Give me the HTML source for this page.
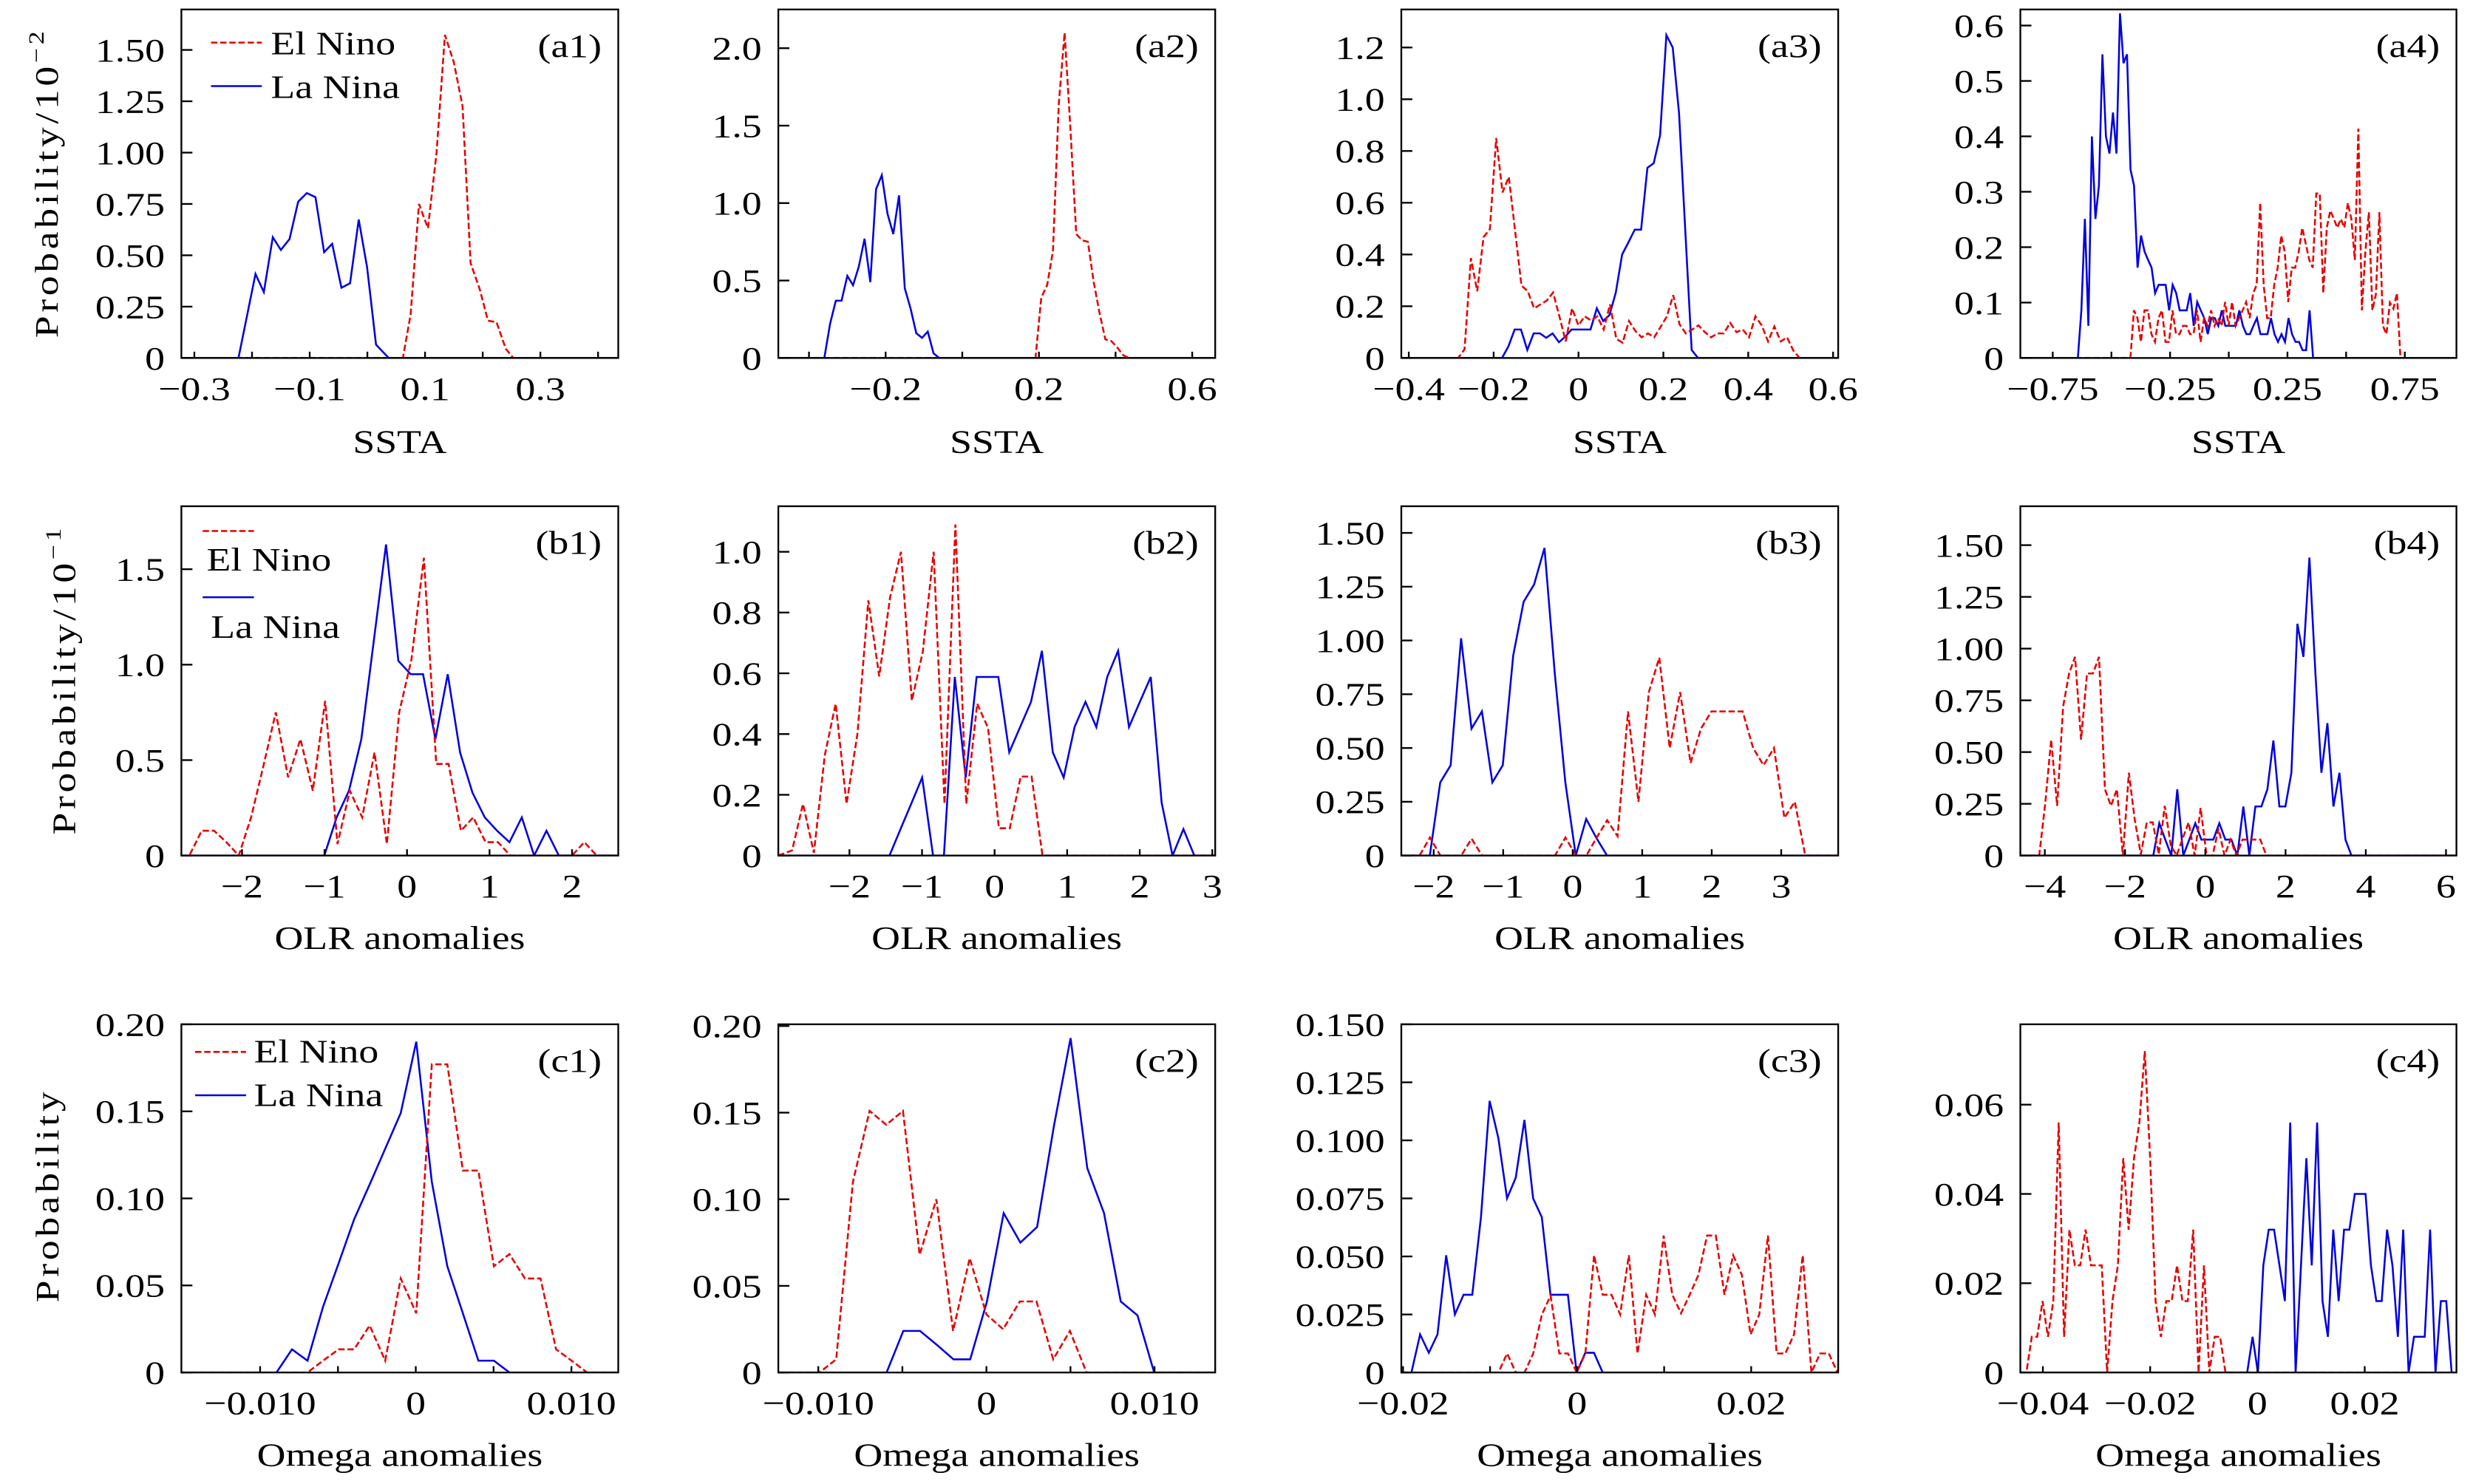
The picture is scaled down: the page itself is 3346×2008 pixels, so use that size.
<!DOCTYPE html>
<html><head><meta charset="utf-8"><title>ENSO probability distributions</title>
<style>
html,body{margin:0;padding:0;background:#fff;}
svg{display:block;}
text{font-family:"Liberation Serif",serif;fill:#000;}
</style></head>
<body>
<svg id="chart" xmlns="http://www.w3.org/2000/svg" width="3346" height="2008" viewBox="0 0 1568 941" preserveAspectRatio="none"></svg>
<script>
// ---------- data ----------
const a1NinaX=[-0.2235,-0.194,-0.1795,-0.164,-0.150,-0.135,-0.120,-0.105,-0.090,-0.075,-0.061,-0.045,-0.030,-0.015,-0.0005,0.015,0.037];
const a1NinaY=[0,.409,.321,.588,.526,.579,.761,.803,.783,.515,.556,.342,.364,.674,.442,.065,0];
const a1NinoX=[0.0616,0.075,0.0895,0.105,0.120,0.1345,0.150,0.165,0.179,0.195,0.209,0.224,0.240,0.253];
const a1NinoY=[0,.212,.750,.632,1.0,1.573,1.439,1.227,.462,.333,.182,.174,.045,0];

const a2NinaBins=[-0.36,0.015];
const a2NinaY=[0,.22,.37,.37,.53,.47,.59,.77,.49,1.09,1.18,.93,.8,1.05,.45,.32,.16,.13,.17,.03,0];
const a2NinoBins=[0.191,0.0152];
const a2NinoY=[0,.39,.47,.69,1.64,2.1,1.48,.8,.76,.75,.49,.29,.12,.11,.07,.02,0];

const a3NinoBins=[-0.2834,0.0149];
const a3NinoY=[0,.034,.386,.258,.467,.498,.85,.64,.70,.49,.28,.258,.192,.207,.222,.253,.161,.064,.192,.126,.161,.145,.161,.11,.207,.074,.059,.143,.105,.08,.095,.08,.12,.161,.243,.13,.095,.11,.126,.1,.08,.095,.095,.136,.1,.11,.08,.161,.126,.064,.122,.064,.08,.029,0];
const a3NinaBins=[-0.1803,0.0149];
const a3NinaY=[0,.044,.11,.11,.031,.095,.095,.078,.095,.061,.082,.11,.11,.11,.11,.192,.143,.166,.253,.40,.447,.496,.496,.735,.753,.86,1.248,1.2,.947,.488,.031,0];

const a4NinaBins=[-0.643,0.01496];
const a4NinaY=[0,.086,.251,.058,.40,.251,.311,.548,.40,.369,.443,.369,.622,.532,.548,.34,.311,.163,.221,.192,.177,.163,.117,.132,.132,.132,.086,.132,.117,.086,.086,.086,.117,.058,.101,.086,.072,.043,.072,.072,.058,.086,.058,.058,.058,.058,.086,.058,.043,.043,.058,.072,.043,.043,.043,.072,.043,.029,.043,.029,.072,.043,.029,.029,.014,.014,.086,0];
const a4NinoBins=[-0.419,0.01494];
const a4NinoY=[0,.086,.072,.029,.086,.086,.043,.029,.072,.086,.029,.029,.086,.043,.043,.058,.058,.043,.043,.086,.029,.072,.058,.086,.058,.072,.058,.101,.058,.101,.058,.072,.086,.101,.072,.117,.132,.28,.132,.072,.072,.132,.163,.221,.192,.101,.163,.163,.192,.235,.206,.177,.163,.297,.297,.117,.235,.266,.251,.235,.251,.235,.28,.251,.177,.414,.086,.192,.263,.086,.115,.263,.058,.043,.1,.089,.117,0];

const b1NinoBins=[-2.638,0.1496];
const b1NinoY=[0,.13,.13,.07,0,.2,.47,.75,.41,.61,.34,.81,.06,.34,.2,.54,.06,.75,1.03,1.56,.48,.48,.13,.2,.07,.07,0,0,0,0,0,0,.07,0];
const b1NinaBins=[-1.0026,0.1496];
const b1NinaY=[0,.2,.34,.61,1.12,1.63,1.02,.95,.95,.61,.95,.54,.33,.2,.13,.07,.2,0,.13,0];

const b2NinoBins=[-2.79,0.15];
const b2NinoY=[.017,.17,.009,.33,.5,.17,.4,.84,.59,.85,1.0,.51,.67,1.0,.17,1.09,.17,.5,.42,.09,.09,.26,.26,0];
const b2NinaBins=[-1.448,0.15];
const b2NinaY=[0,.086,.171,.257,0,0,.588,.257,.588,.588,.588,.34,.423,.506,.674,.34,.257,.423,.506,.423,.588,.674,.423,.506,.588,.174,0,.087,0];

const b3NinaBins=[-2.056,0.150];
const b3NinaY=[0,.34,.42,1.01,.59,.67,.34,.42,.93,1.18,1.26,1.43,.84,.34,0,.17,.08,0];
const b3NinoBins=[-2.204,0.150];
const b3NinoY=[0,.084,0,0,0,.078,0,0,0,0,0,0,0,0,.084,0,0,.084,.164,.09,.67,.25,.76,.92,.5,.76,.43,.59,.67,.67,.67,.67,.5,.42,.5,.175,.25,0];

const b4NinoBins=[-4.14,0.149];
const b4NinoY=[0,.25,.56,.24,.72,.88,.96,.56,.88,.88,.96,.32,.24,.32,0,.4,.17,.006,.16,.16,.006,.24,.05,0,.083,.16,0,.23,0,0,.13,0,.077,0,.077,.077,.077,.077,0];
const b4NinaBins=[-1.297,0.1497];
const b4NinaY=[0,.156,.077,0,.32,0,.077,.156,.077,.077,.077,.156,.077,.077,0,.237,0,.237,.237,.32,.556,.237,.237,.4,1.12,.96,1.44,.88,.4,.64,.237,.4,.077,0];

const c1NinaBins=[-0.00895,0.000998];
const c1NinaY=[0,.0133,.0068,.0378,.0627,.088,.108,.1285,.149,.19,.1096,.061,.034,.0068,.0068,0];
const c1NinoBins=[-0.00895,0.000998];
const c1NinoY=[0,0,0,.0068,.0133,.0133,.027,.0068,.054,.034,.177,.177,.116,.116,.061,.068,.054,.054,.0133,.0068,0];

const c2NinoBins=[-0.00993,0.000993];
const c2NinoY=[0,.0076,.11,.151,.143,.151,.068,.1,.024,.066,.0335,.025,.041,.041,.0076,.024,0];
const c2NinaBins=[-0.00594,0.000995];
const c2NinaY=[0,.024,.024,.016,.0076,.0076,.041,.092,.075,.084,.142,.193,.118,.092,.041,.033,0];

const c3NinaBins=[-0.01904,0.000999];
const c3NinaY=[0,.0164,.0085,.0164,.0505,.025,.0335,.0335,.0669,.117,.101,.075,.0839,.1088,.075,.0669,.0335,.0335,.0335,0,.0085,.0085,0];
const c3NinoBins=[-0.00904,0.000999];
const c3NinoY=[0,.0082,0,0,.0082,.025,.0331,.0082,.0082,0,.0082,.0505,.0335,.0335,.025,.0505,.0082,.0335,.025,.059,.0335,.0255,.0335,.042,.059,.059,.0335,.0505,.042,.0164,.025,.059,.0082,.0082,.0164,.0505,0,.0082,.0082,0];

const c4NinoBins=[-0.04307,0.001003];
const c4NinoY=[0,.008,.008,.016,.008,.016,.056,.008,.032,.024,.024,.032,.024,.024,.024,0,.016,.024,.048,.032,.048,.056,.072,.048,.016,.008,.016,.016,.024,.016,.016,.032,0,.024,0,.008,.008,0];
const c4NinaBins=[-0.00191,0.001003];
const c4NinaY=[0,.008,0,.024,.032,.032,.024,.016,.056,0,.024,.048,.024,.056,.016,.008,.032,.016,.032,.032,.04,.04,.04,.024,.016,.016,.032,.024,.008,.032,0,.008,.008,.008,.032,0,.016,.016,0];

// ---------- panel definitions (axis ranges, ticks, labels) ----------
const panels=[
 {id:'a1',c:0,r:0,xr:[-0.3225,0.435],ymax:1.697,xt:[-0.3,-0.2,-0.1,0,0.1,0.2,0.3,0.4],xl:['−0.3','','−0.1','','0.1','','0.3',''],yt:[0,.25,.5,.75,1,1.25,1.5],yl:['0','0.25','0.50','0.75','1.00','1.25','1.50'],xlabel:'SSTA',
  nina:{y:a1NinaY,x:a1NinaX},nino:{y:a1NinoY,x:a1NinoX}},
 {id:'a2',c:1,r:0,xr:[-0.48,0.66],ymax:2.25,xt:[-0.4,-0.2,0,0.2,0.4,0.6],xl:['','−0.2','','0.2','','0.6'],yt:[0,.5,1,1.5,2],yl:['0','0.5','1.0','1.5','2.0'],xlabel:'SSTA',
  nina:{y:a2NinaY,b:a2NinaBins},nino:{y:a2NinoY,b:a2NinoBins}},
 {id:'a3',c:2,r:0,xr:[-0.4176,0.612],ymax:1.347,xt:[-0.4,-0.2,0,0.2,0.4,0.6],xl:['−0.4','−0.2','0','0.2','0.4','0.6'],yt:[0,.2,.4,.6,.8,1,1.2],yl:['0','0.2','0.4','0.6','0.8','1.0','1.2'],xlabel:'SSTA',
  nina:{y:a3NinaY,b:a3NinaBins},nino:{y:a3NinoY,b:a3NinoBins}},
 {id:'a4',c:3,r:0,xr:[-0.888,0.97],ymax:0.629,xt:[-0.75,-0.5,-0.25,0,0.25,0.5,0.75],xl:['−0.75','','−0.25','','0.25','','0.75'],yt:[0,.1,.2,.3,.4,.5,.6],yl:['0','0.1','0.2','0.3','0.4','0.5','0.6'],xlabel:'SSTA',
  nina:{y:a4NinaY,b:a4NinaBins},nino:{y:a4NinoY,b:a4NinoBins}},
 {id:'b1',c:0,r:1,xr:[-2.735,2.56],ymax:1.83,xt:[-2,-1,0,1,2],xl:['−2','−1','0','1','2'],yt:[0,.5,1,1.5],yl:['0','0.5','1.0','1.5'],xlabel:'OLR anomalies',
  nina:{y:b1NinaY,b:b1NinaBins},nino:{y:b1NinoY,b:b1NinoBins}},
 {id:'b2',c:1,r:1,xr:[-2.98,3.04],ymax:1.15,xt:[-2,-1,0,1,2,3],xl:['−2','−1','0','1','2','3'],yt:[0,.2,.4,.6,.8,1],yl:['0','0.2','0.4','0.6','0.8','1.0'],xlabel:'OLR anomalies',
  nina:{y:b2NinaY,b:b2NinaBins},nino:{y:b2NinoY,b:b2NinoBins}},
 {id:'b3',c:2,r:1,xr:[-2.466,3.82],ymax:1.624,xt:[-2,-1,0,1,2,3],xl:['−2','−1','0','1','2','3'],yt:[0,.25,.5,.75,1,1.25,1.5],yl:['0','0.25','0.50','0.75','1.00','1.25','1.50'],xlabel:'OLR anomalies',
  nina:{y:b3NinaY,b:b3NinaBins},nino:{y:b3NinoY,b:b3NinoBins}},
 {id:'b4',c:3,r:1,xr:[-4.61,6.26],ymax:1.688,xt:[-4,-2,0,2,4,6],xl:['−4','−2','0','2','4','6'],yt:[0,.25,.5,.75,1,1.25,1.5],yl:['0','0.25','0.50','0.75','1.00','1.25','1.50'],xlabel:'OLR anomalies',
  nina:{y:b4NinaY,b:b4NinaBins},nino:{y:b4NinoY,b:b4NinoBins}},
 {id:'c1',c:0,r:2,xr:[-0.01506,0.01301],ymax:0.2,xt:[-0.01,-0.005,0,0.005,0.01],xl:['−0.010','','0','','0.010'],yt:[0,.05,.1,.15,.2],yl:['0','0.05','0.10','0.15','0.20'],xlabel:'Omega anomalies',
  nina:{y:c1NinaY,b:c1NinaBins},nino:{y:c1NinoY,b:c1NinoBins}},
 {id:'c2',c:1,r:2,xr:[-0.01238,0.01361],ymax:0.201,xt:[-0.01,-0.005,0,0.005,0.01],xl:['−0.010','','0','','0.010'],yt:[0,.05,.1,.15,.2],yl:['0','0.05','0.10','0.15','0.20'],xlabel:'Omega anomalies',
  nina:{y:c2NinaY,b:c2NinaBins},nino:{y:c2NinoY,b:c2NinoBins}},
 {id:'c3',c:2,r:2,xr:[-0.0202,0.03],ymax:0.15,xt:[-0.02,-0.01,0,0.01,0.02],xl:['−0.02','','0','','0.02'],yt:[0,.025,.05,.075,.1,.125,.15],yl:['0','0.025','0.050','0.075','0.100','0.125','0.150'],xlabel:'Omega anomalies',
  nina:{y:c3NinaY,b:c3NinaBins},nino:{y:c3NinoY,b:c3NinoBins}},
 {id:'c4',c:3,r:2,xr:[-0.0442,0.0371],ymax:0.078,xt:[-0.04,-0.02,0,0.02],xl:['−0.04','−0.02','0','0.02'],yt:[0,.02,.04,.06],yl:['0','0.02','0.04','0.06'],xlabel:'Omega anomalies',
  nina:{y:c4NinaY,b:c4NinaBins},nino:{y:c4NinoY,b:c4NinoBins}}
];

// ---------- layout ----------
const colX=[[115,392],[493.5,770.5],[888.5,1165.5],[1281,1557.5]];
const rowY=[[6,227],[321,542.5],[649.5,870.3]];
const xTitleY=[287,601.8,929.5];
const yTitles=[{x:29.6,y:116,main:'Probability/10',sup:'−2'},{x:40.5,y:431,main:'Probability/10',sup:'−1'},{x:30,y:758,main:'Probability',sup:''}];
const RED='#e60000', BLUE='#0000e0', FS=21, SX=1.2, DASH='4 1.8';

const NS='http://www.w3.org/2000/svg';
const svg=document.getElementById('chart');
function mk(tag,attrs,parent){const e=document.createElementNS(NS,tag);for(const k in attrs)e.setAttribute(k,attrs[k]);(parent||svg).appendChild(e);return e;}
function txt(parent,x,y,s,anchor,size){
  const t=mk('text',{transform:`translate(${x},${y}) scale(${SX},1)`,'text-anchor':anchor||'middle','font-size':size||FS},parent);
  t.textContent=s;return t;
}
const defs=mk('defs',{});

panels.forEach(p=>{
  const [x0,x1]=colX[p.c],[y0,y1]=rowY[p.r];
  const sx=v=>x0+(v-p.xr[0])/(p.xr[1]-p.xr[0])*(x1-x0);
  const sy=v=>y1-v/p.ymax*(y1-y0);
  const g=mk('g',{});
  
  
  const cp=mk('clipPath',{id:'clip-'+p.id},defs);
  mk('rect',{x:x0,y:y0,width:x1-x0,height:y1-y0},cp);

  [['nina',BLUE,null,'la-nina-line'],['nino',RED,DASH,'el-nino-line']].forEach(([k,col,dash,nm])=>{
    const s=p[k];
    const xs=s.y.map((v,i)=>s.x?s.x[i]:s.b[0]+i*s.b[1]);
    const pts=[[sx(p.xr[0]),sy(0)]].concat(s.y.map((v,i)=>[sx(xs[i]),sy(v)])).concat([[sx(p.xr[1]),sy(0)]]);
    const pl=mk('polyline',{points:pts.map(q=>q[0].toFixed(2)+','+q[1].toFixed(2)).join(' '),fill:'none',stroke:col,'stroke-width':1.2,'stroke-linejoin':'miter','clip-path':`url(#clip-${p.id})`},g);
    if(dash)pl.setAttribute('stroke-dasharray',dash);
    
    
  });

  const fr=mk('rect',{x:x0,y:y0,width:x1-x0,height:y1-y0,fill:'none',stroke:'#000','stroke-width':1.1},g);
  
  

  p.xt.forEach((v,i)=>{
    const X=sx(v);
    const tk=mk('line',{x1:X,x2:X,y1:y1,y2:y1-4,stroke:'#000','stroke-width':1.1},g);
    
    
    if(p.xl[i]){
      const t=txt(g,X,y1+26.5,p.xl[i]);
      
      
    }
  });
  p.yt.forEach((v,i)=>{
    const Y=sy(v);
    const tk=mk('line',{x1:x0,x2:x0+7,y1:Y,y2:Y,stroke:'#000','stroke-width':1.1},g);
    
    
    const t=txt(g,x0-10.5,Y+7.2,p.yl[i],'end');
    
    
  });
  const xt=txt(g,(x0+x1)/2,xTitleY[p.r],p.xlabel);
  
  
  const tg=txt(g,x1-10.5,y0+30,'('+p.id+')','end');
  
  
});

yTitles.forEach((d,i)=>{
  const t=mk('text',{transform:`translate(${d.x+7},${d.y}) rotate(-90) scale(${SX},1)`,'text-anchor':'middle','font-size':FS,'letter-spacing':1.8});
  
  
  t.appendChild(document.createTextNode(d.main));
  if(d.sup){const ts=mk('tspan',{'font-size':14,dy:-9},t);ts.textContent=d.sup;}
});

function legend(items){
  items.forEach(it=>{
    const l=mk('line',{x1:it.lx1,x2:it.lx2,y1:it.ly,y2:it.ly,stroke:it.col,'stroke-width':1.2});
    if(it.dash)l.setAttribute('stroke-dasharray',it.dash);
    
    
    const t=txt(svg,it.tx,it.ty,it.label,'start');
    
    
  });
}
legend([
 {name:'a1-el-nino',lx1:133.8,lx2:166,ly:27,col:RED,dash:DASH,tx:171.7,ty:34.5,label:'El Nino'},
 {name:'a1-la-nina',lx1:133.8,lx2:166,ly:54.6,col:BLUE,tx:171.7,ty:62.1,label:'La Nina'},
 {name:'b1-el-nino',lx1:128.5,lx2:161,ly:336.7,col:RED,dash:DASH,tx:131,ty:361.8,label:'El Nino'},
 {name:'b1-la-nina',lx1:128.5,lx2:161,ly:378.7,col:BLUE,tx:133.7,ty:404.5,label:'La Nina'},
 {name:'c1-el-nino',lx1:123.7,lx2:156,ly:667,col:RED,dash:DASH,tx:161,ty:673.6,label:'El Nino'},
 {name:'c1-la-nina',lx1:123.7,lx2:156,ly:694.5,col:BLUE,tx:161,ty:701.2,label:'La Nina'}
]);
</script>
</body></html>
